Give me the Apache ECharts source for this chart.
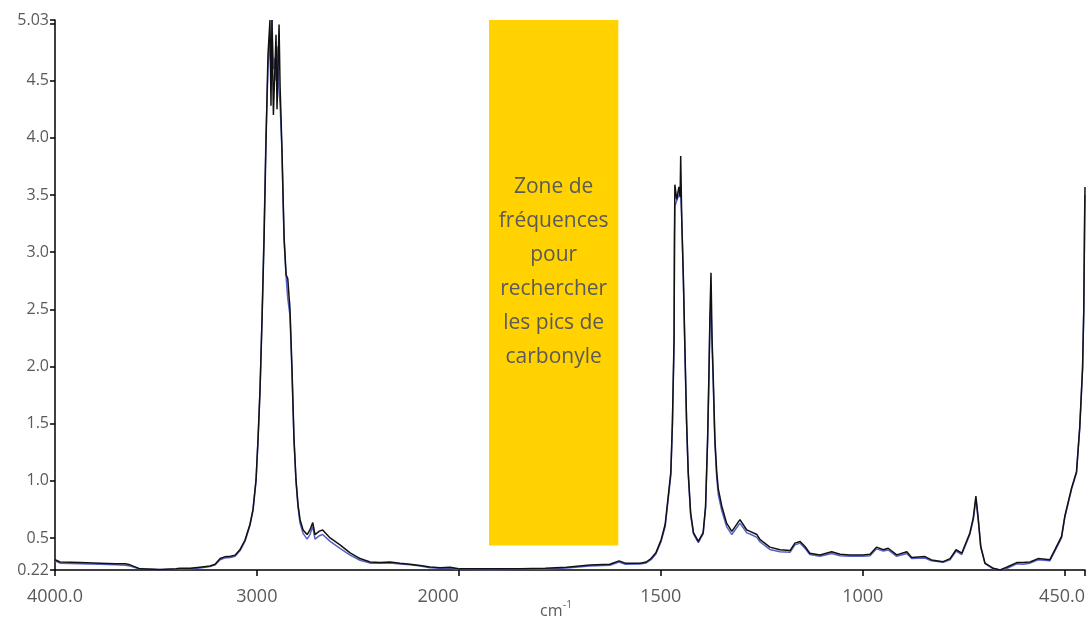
<!DOCTYPE html>
<html>
<head>
<meta charset="utf-8">
<script src="https://cdn.jsdelivr.net/npm/echarts@6/dist/echarts.min.js"></script>
<style>
html,body{margin:0;padding:0;background:#fff;}
#chart{width:1091px;height:618px;}
</style>
</head>
<body>
<div id="chart"></div>
<script>
// Wavenumbers (cm-1), high-frequency part (4000 -> 2000)
const waveLeft = [4000,3975,3876,3777,3700,3653,3628,3600,3579,3480,3400,3381,3330,3282,3232,3207,3182,3160,3130,3108,3083,3059,3034,3019,3004,2994,2984,2974,2964,2955,2945,2935,2930,2925,2918,2915,2905,2900,2890,2885,2876,2870,2865,2855,2847,2840,2836,2826,2816,2806,2796,2786,2771,2751,2737,2723,2712,2690,2674,2637,2588,2538,2489,2439,2390,2340,2291,2241,2191,2142,2092,2043,2000];
const absBlackLeft = [0.31,0.29,0.285,0.28,0.275,0.275,0.265,0.245,0.23,0.225,0.23,0.235,0.235,0.245,0.255,0.27,0.32,0.335,0.34,0.35,0.40,0.48,0.62,0.75,1.01,1.37,1.81,2.43,3.13,3.93,4.72,5.03,4.28,5.03,4.2,4.37,4.9,4.25,4.99,4.46,3.93,3.49,3.13,2.8,2.77,2.6,2.51,1.985,1.37,1.01,0.79,0.66,0.57,0.53,0.57,0.635,0.53,0.56,0.57,0.5,0.44,0.37,0.32,0.29,0.286,0.29,0.28,0.27,0.26,0.246,0.24,0.245,0.23];
const absBlueLeft = [0.30,0.28,0.275,0.27,0.265,0.262,0.255,0.24,0.228,0.222,0.226,0.228,0.23,0.238,0.25,0.265,0.31,0.325,0.33,0.34,0.39,0.47,0.61,0.74,1.0,1.36,1.8,2.45,3.2,4.0,4.6,4.9,4.5,5.03,4.6,4.7,4.5,4.8,4.4,4.3,3.9,3.45,3.1,2.78,2.6,2.5,2.45,1.95,1.35,0.99,0.77,0.63,0.54,0.49,0.53,0.6,0.49,0.52,0.53,0.47,0.41,0.35,0.305,0.28,0.278,0.282,0.273,0.265,0.255,0.24,0.235,0.238,0.225];

// Low-frequency part (2000 -> 450)
const waveRight = [2000,1972,1923,1848,1786,1733,1675,1626,1603,1588,1551,1536,1524,1512,1499,1489,1475,1471,1467,1466,1465,1460.5,1455,1452,1450.6,1448,1444,1440,1436,1432,1426,1419,1407,1395,1389,1384,1380.6,1378,1375.6,1373,1370,1366,1361.5,1357.6,1349,1337,1324,1304,1287,1279,1262,1254,1230,1205,1180,1168,1155,1143,1131,1106,1077,1056,1032,1000,982,966,949,937,916,891,879,846,830,801,784,769,755,735,726.5,720,714,708,697.5,677,660,644,619,603,586,566,537,524,508,500,483,471,463,456,453,451,450];
const absBlackRight = [0.23,0.23,0.23,0.232,0.235,0.245,0.264,0.27,0.30,0.28,0.28,0.29,0.32,0.37,0.485,0.62,1.076,1.52,2.25,3.13,3.59,3.46,3.57,3.48,3.84,3.28,2.78,2.14,1.52,1.08,0.72,0.547,0.47,0.547,0.78,1.37,1.96,2.49,2.82,2.25,1.9,1.37,1.08,0.93,0.78,0.63,0.558,0.66,0.57,0.558,0.53,0.485,0.42,0.397,0.39,0.455,0.47,0.426,0.367,0.352,0.38,0.357,0.352,0.352,0.357,0.42,0.397,0.41,0.352,0.38,0.33,0.337,0.308,0.293,0.32,0.397,0.367,0.544,0.676,0.867,0.66,0.426,0.28,0.235,0.22,0.244,0.285,0.285,0.29,0.32,0.31,0.40,0.514,0.69,0.94,1.08,1.47,1.99,2.5,3.29,3.57];
const absBlueRight = [0.225,0.225,0.222,0.225,0.228,0.238,0.255,0.262,0.29,0.27,0.272,0.282,0.31,0.36,0.47,0.6,1.05,1.5,2.2,3.0,3.4,3.45,3.5,3.55,3.5,3.3,2.75,2.1,1.5,1.06,0.7,0.535,0.46,0.535,0.76,1.35,1.9,2.45,2.5,2.2,1.85,1.33,1.03,0.88,0.74,0.6,0.53,0.63,0.545,0.535,0.505,0.465,0.4,0.38,0.375,0.44,0.455,0.41,0.355,0.34,0.365,0.345,0.34,0.34,0.345,0.405,0.385,0.395,0.34,0.365,0.32,0.325,0.3,0.288,0.31,0.385,0.355,0.53,0.66,0.84,0.65,0.42,0.275,0.23,0.22,0.232,0.275,0.27,0.28,0.31,0.3,0.39,0.5,0.68,0.93,1.07,1.46,1.98,2.49,3.2,3.5];

// Axis ticks and labels
const xTicksLeft = [4000, 3000, 2000];
const xLabelsLeft = [4000, 3000, 2000];
const xTicksRight = [2000, 1500, 1000, 500, 450];
const xLabelsRight = [1500, 1000, 450];
const yTicks = [0.22, 0.5, 1.0, 1.5, 2.0, 2.5, 3.0, 3.5, 4.0, 4.5, 5.0, 5.03];
const yLabels = [0.22, 0.5, 1.0, 1.5, 2.0, 2.5, 3.0, 3.5, 4.0, 4.5, 5.03];
const yMin = 0.22, yMax = 5.03;

// Carbonyl search zone
const zoneWave = [1925, 1605];
const zoneAbs = [0.435, 5.03];
const zoneText = 'Zone de\nfréquences\npour\nrechercher\nles pics de\ncarbonyle';

const zip = (a, b) => a.map((v, i) => [v, b[i]]);
const FONT = '"Open Sans", "Noto Sans", sans-serif';
const TXT = '#5a5a5a';

const chart = echarts.init(document.getElementById('chart'), null, {renderer: 'canvas'});

const xAxisBase = (grid, min, max, ticks, labels, fmt) => ({
  type: 'value', gridIndex: grid, min: min, max: max, inverse: true,
  splitLine: {show: false},
  axisLine: {show: true, onZero: false, lineStyle: {color: '#000', width: 1.5}},
  axisTick: {show: true, inside: false, length: 6, customValues: ticks, lineStyle: {color: '#000', width: 1.5}},
  axisLabel: {show: true, customValues: labels, formatter: fmt, color: TXT, fontSize: 18, fontFamily: FONT,
    margin: 18, hideOverlap: false, alignMaxLabel: 'right'}
});

chart.setOption({
  animation: false,
  backgroundColor: '#fff',
  grid: [
    {left: 55, top: 20, bottom: 48, width: 403.7, containLabel: false, outerBoundsMode: 'none'},
    {left: 458.7, top: 20, bottom: 48, right: 6, containLabel: false, outerBoundsMode: 'none'}
  ],
  xAxis: [
    xAxisBase(0, 2000, 4000, xTicksLeft, xLabelsLeft, v => v === 4000 ? '4000.0' : String(v)),
    xAxisBase(1, 450, 2000, xTicksRight, xLabelsRight, v => v === 450 ? '450.0' : String(v))
  ],
  yAxis: [
    {
      type: 'value', gridIndex: 0, min: yMin, max: yMax,
      splitLine: {show: false},
      axisLine: {show: true, onZero: false, lineStyle: {color: '#000', width: 1.5}},
      axisTick: {show: true, length: 5, customValues: yTicks, lineStyle: {color: '#000', width: 1.5}},
      axisLabel: {show: true, customValues: yLabels, color: TXT, fontSize: 16, fontFamily: FONT, margin: 6,
        formatter: v => (Math.abs(v - 0.22) < 1e-6 || Math.abs(v - 5.03) < 1e-6) ? v.toFixed(2) : v.toFixed(1)}
    },
    {
      type: 'value', gridIndex: 1, min: yMin, max: yMax, show: false, splitLine: {show: false}
    }
  ],
  graphic: [
    {type: 'text', left: 540, top: 603, style: {text: 'cm', fill: TXT, font: '16px ' + FONT}},
    {type: 'text', left: 563, top: 600, style: {text: '-1', fill: TXT, font: '10px ' + FONT}}
  ],
  series: [
    {type: 'line', xAxisIndex: 0, yAxisIndex: 0, data: zip(waveLeft, absBlueLeft), symbol: 'none',
      lineStyle: {color: '#5560c8', width: 1.5}, z: 2},
    {type: 'line', xAxisIndex: 0, yAxisIndex: 0, data: zip(waveLeft, absBlackLeft), symbol: 'none',
      lineStyle: {color: '#111', width: 1.5}, z: 3},
    {type: 'line', xAxisIndex: 1, yAxisIndex: 1, data: zip(waveRight, absBlueRight), symbol: 'none',
      lineStyle: {color: '#5560c8', width: 1.5}, z: 2,
      markArea: {
        silent: true,
        itemStyle: {color: '#FFD200', opacity: 1},
        label: {show: true, position: 'inside', offset: [0, -11], color: TXT, fontSize: 21, lineHeight: 34, fontFamily: FONT, align: 'center'},
        data: [[
          {xAxis: zoneWave[0], yAxis: zoneAbs[0], name: zoneText},
          {xAxis: zoneWave[1], yAxis: zoneAbs[1]}
        ]]
      }},
    {type: 'line', xAxisIndex: 1, yAxisIndex: 1, data: zip(waveRight, absBlackRight), symbol: 'none',
      lineStyle: {color: '#111', width: 1.5}, z: 3}
  ]
});
</script>
</body>
</html>
